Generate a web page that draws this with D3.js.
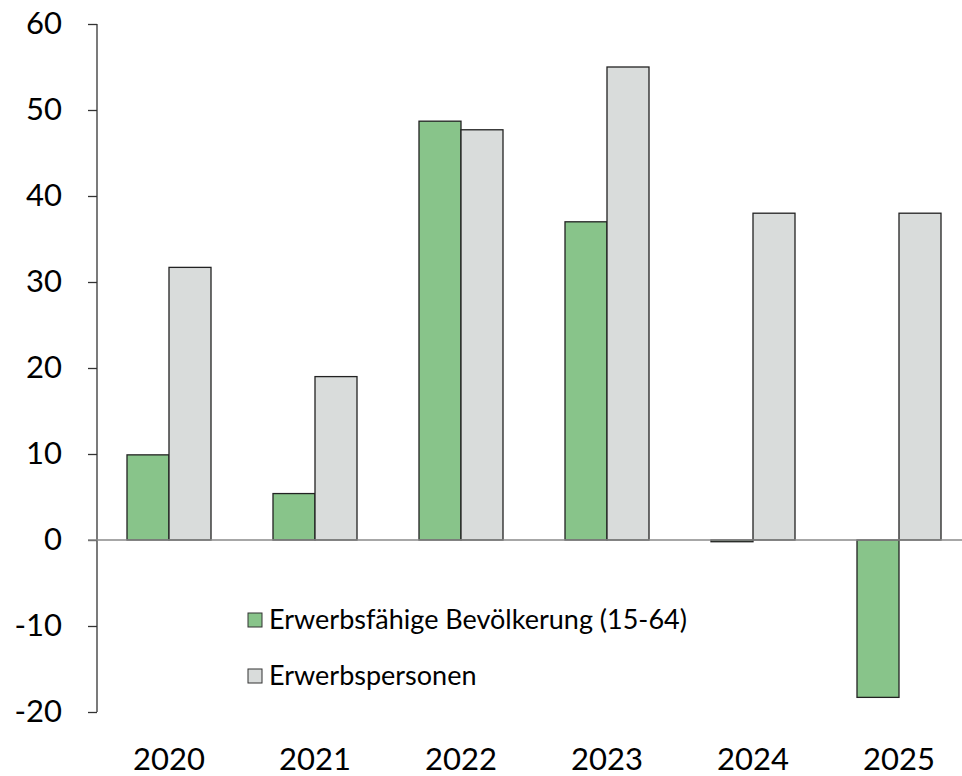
<!DOCTYPE html>
<html>
<head>
<meta charset="utf-8">
<script src="https://cdn.jsdelivr.net/npm/d3@7"></script>
<style>
  body { margin: 0; background: #fff; }
  svg text { font-family: Lato, "Open Sans", sans-serif; fill: #000; }
</style>
</head>
<body>
<svg id="chart" width="962" height="776"></svg>
<script>
// data
var years = ["2020", "2021", "2022", "2023", "2024", "2025"];
var seriesNames = ["Erwerbsfähige Bevölkerung (15-64)", "Erwerbspersonen"];
var workingAge = [9.9, 5.4, 48.7, 37.0, -0.2, -18.3];
var labourForce = [31.7, 19.0, 47.7, 55.0, 38.0, 38.0];
var yTicks = [-20, -10, 0, 10, 20, 30, 40, 50, 60];
var colors = ["#88c48a", "#d9dcdb"];

var svg = d3.select("#chart");

var x = d3.scaleBand().domain(years).range([96, 972])
    .paddingInner(62 / 146).paddingOuter(31 / 146);
var xs = d3.scaleBand().domain(seriesNames).range([0, x.bandwidth()]);
var y = d3.scaleLinear().domain([-20, 60]).range([712, 24]);

var rows = [];
years.forEach(function(yr, i) {
  rows.push({year: yr, s: seriesNames[0], v: workingAge[i], c: colors[0]});
  rows.push({year: yr, s: seriesNames[1], v: labourForce[i], c: colors[1]});
});

// y axis (plain hyphen for negatives, like the original)
var yAxis = svg.append("g").attr("transform", "translate(97,0)")
  .call(d3.axisLeft(y).tickValues(yTicks).tickSize(9).tickPadding(26).tickFormat(function(d) { return String(d); }));
yAxis.select(".domain").attr("d", "M0," + y(60) + "V" + y(-20)).attr("stroke", "#333").attr("stroke-width", 1.3);
yAxis.selectAll(".tick line").attr("stroke", "#333").attr("stroke-width", 1.3);
yAxis.selectAll(".tick text").attr("font-size", 31).attr("font-family", "Lato").attr("fill", "#000");

// bars
svg.append("g").selectAll("rect").data(rows).enter().append("rect")
  .attr("x", function(d) { return x(d.year) + xs(d.s); })
  .attr("y", function(d) { return y(Math.max(0, d.v)); })
  .attr("width", xs.bandwidth())
  .attr("height", function(d) { return Math.abs(y(d.v) - y(0)); })
  .attr("fill", function(d) { return d.c; })
  .attr("stroke", "#222")
  .attr("stroke-width", 1.3);

// zero line
svg.append("line")
  .attr("x1", 88).attr("x2", 962)
  .attr("y1", y(0)).attr("y2", y(0))
  .attr("stroke", "#8a8a8a").attr("stroke-width", 1.3);

// x labels
svg.append("g").selectAll("text").data(years).enter().append("text")
  .attr("x", function(d) { return x(d) + x.bandwidth() / 2; })
  .attr("y", 770)
  .attr("text-anchor", "middle")
  .attr("font-size", 31)
  .text(function(d) { return d; });

// legend
var legend = svg.append("g").selectAll("g").data(seriesNames).enter().append("g")
  .attr("transform", function(d, i) { return "translate(248," + (613 + i * 56) + ")"; });
legend.append("rect").attr("width", 14).attr("height", 14)
  .attr("fill", function(d, i) { return colors[i]; })
  .attr("stroke", "#333").attr("stroke-width", 1);
legend.append("text").attr("x", 21).attr("y", 7).attr("dy", "0.35em")
  .attr("font-size", 27)
  .text(function(d) { return d; });
</script>
</body>
</html>
